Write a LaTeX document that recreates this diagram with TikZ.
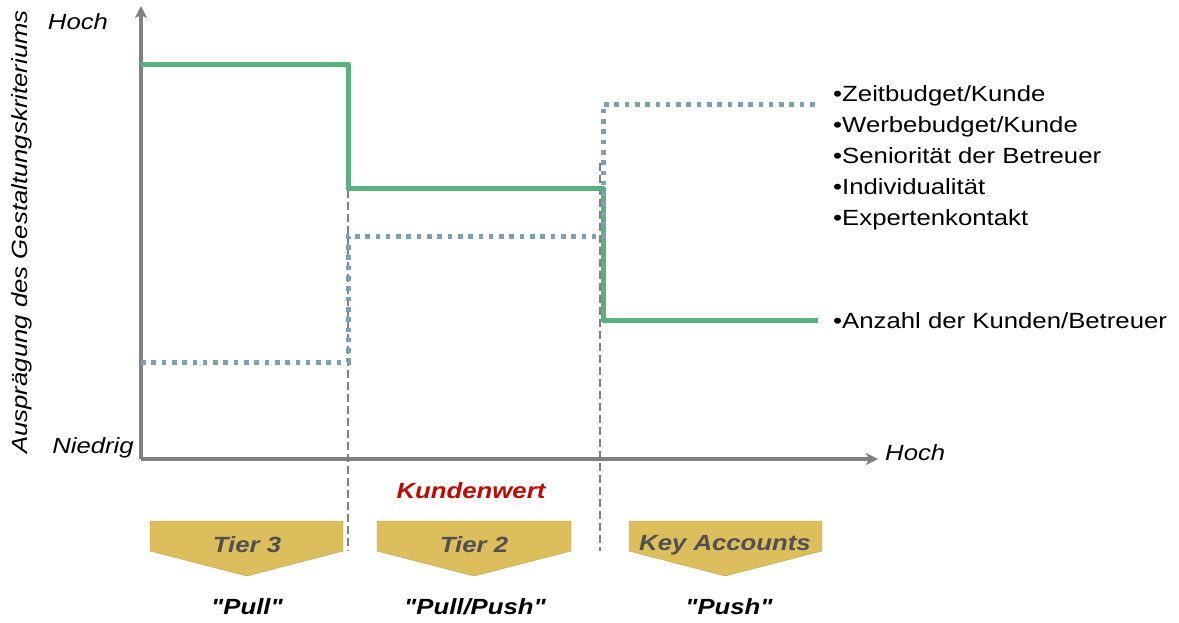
\documentclass[tikz,border=0pt]{standalone}
\usepackage{fontspec}
\setmainfont{Liberation Sans}[FakeStretch=1.17, Ligatures=TeXOff]
\usetikzlibrary{arrows.meta}
\definecolor{axisgray}{RGB}{128,128,128}
\definecolor{stepgreen}{RGB}{91,176,128}
\definecolor{stepblue}{RGB}{122,162,180}
\definecolor{tiergold}{RGB}{220,190,92}
\definecolor{tiertext}{RGB}{80,80,80}
\definecolor{valuered}{RGB}{192,10,0}
\tikzset{
  axisline/.style={draw=axisgray, line width=3.2pt, -{Stealth[length=12pt,width=12pt,inset=3pt]}},
  divider/.style={draw=axisgray, line width=2.2pt, dash pattern=on 8pt off 4pt},
  greenstep/.style={draw=stepgreen, line width=5pt, line join=round},
  bluestep/.style={draw=stepblue, line width=5pt, dash pattern=on 4.6pt off 5.7pt},
  tierbox/.style={fill=tiergold, draw=tiergold!85!black, line width=0.4pt},
  tierlabel/.style={font=\fontsize{22}{26}\selectfont\bfseries\itshape, text=tiertext},
  modelabel/.style={font=\fontsize{22}{26}\selectfont\bfseries\itshape, text=black},
  axislabel/.style={font=\fontsize{22}{26}\selectfont\itshape, text=black, inner sep=0pt},
  critlabel/.style={font=\fontsize{22}{26}\selectfont, text=black, inner sep=0pt, anchor=base west},
}
\begin{document}
\begin{tikzpicture}[x=1pt, y=-1pt]
\useasboundingbox (0,0) rectangle (1179,622);

% axes
\coordinate (origin) at (141,459);
\coordinate (ytip) at (141,6);
\coordinate (xtip) at (878,459);
\draw[axisline] (origin) -- (ytip);
\draw[axisline] (origin) -- (xtip);

% tier boundaries
\coordinate (d1top) at (348,190);
\coordinate (d1bot) at (348,551);
\coordinate (d2top) at (600,163);
\coordinate (d2bot) at (600,551);
\draw[divider] (d1top) -- (d1bot);
\draw[divider] (d2top) -- (d2bot);

% criteria decreasing with customer value
\draw[greenstep] (141,64) -- (348,64) -- (348,188) -- (603,188) -- (603,320) -- (818,320);
% criteria increasing with customer value
\draw[bluestep] (141,362) -- (348,362) -- (348,236) -- (603,236) -- (603,104) -- (816,104);

% axis texts
\node[axislabel] (yhigh) at (78,22) {Hoch};
\node[axislabel, anchor=east] (ylow) at (134,448) {Niedrig};
\node[axislabel, anchor=west] (xhigh) at (885,453) {Hoch};
\node[axislabel, rotate=90] (ytitle) at (22,232) {Ausprägung des Gestaltungskriteriums};
\node[font=\fontsize{22}{26}\selectfont\bfseries\itshape, text=valuered] (xtitle) at (471,491) {Kundenwert};

% criteria list
\node[critlabel] (c1) at (833,101.5) {•Zeitbudget/Kunde};
\node[critlabel] (c2) at (833,132.5) {•Werbebudget/Kunde};
\node[critlabel] (c3) at (833,163) {•Seniorität der Betreuer};
\node[critlabel] (c4) at (833,194) {•Individualität};
\node[critlabel] (c5) at (833,225) {•Expertenkontakt};
\node[critlabel] (c6) at (833,328) {•Anzahl der Kunden/Betreuer};

% tier chevrons
\draw[tierbox] (150,521) -- (343,521) -- (343,551) -- (247,576) -- (150,551) -- cycle;
\draw[tierbox] (377,521) -- (571,521) -- (571,551) -- (474,576) -- (377,551) -- cycle;
\draw[tierbox] (629,521) -- (822,521) -- (822,551) -- (725,576) -- (629,551) -- cycle;
\node[tierlabel] (t3) at (247,545) {Tier 3};
\node[tierlabel] (t2) at (474,545) {Tier 2};
\node[tierlabel] (ka) at (725,545) {Key Accounts};

% interaction modes
\node[modelabel] (m3) at (247,607) {"Pull"};
\node[modelabel] (m2) at (475,607) {"Pull/Push"};
\node[modelabel] (m1) at (729,607) {"Push"};
\end{tikzpicture}
\end{document}
